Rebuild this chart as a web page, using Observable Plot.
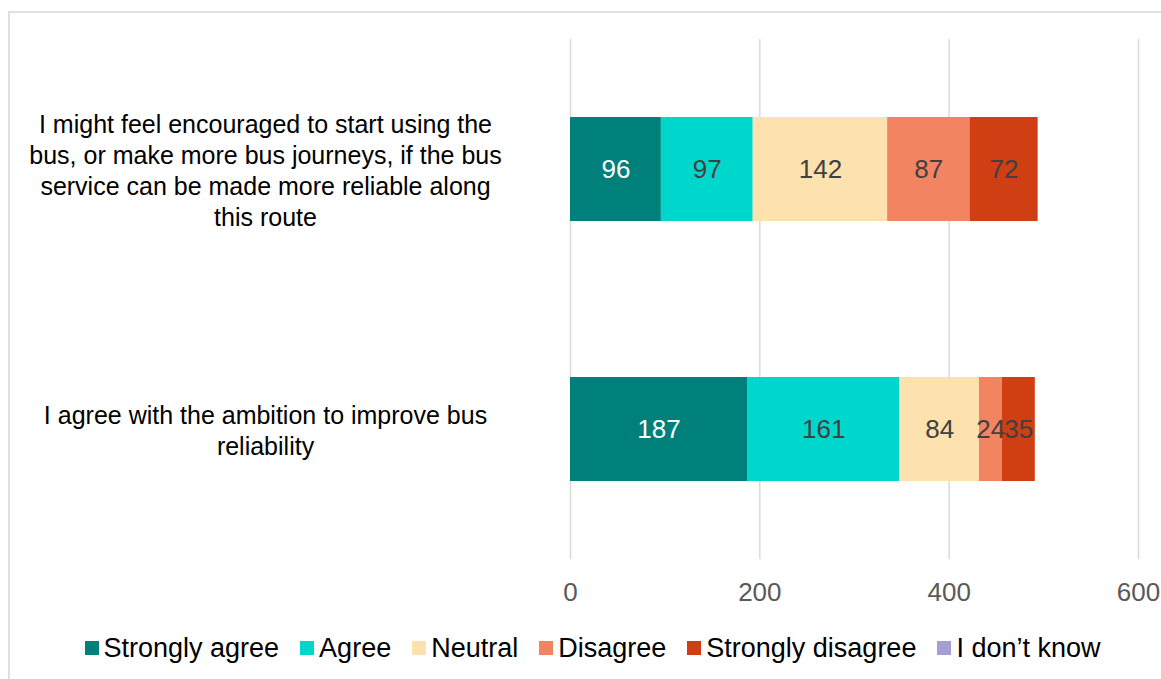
<!DOCTYPE html>
<html>
<head>
<meta charset="utf-8">
<script src="https://cdn.jsdelivr.net/npm/d3@7"></script>
<script src="https://cdn.jsdelivr.net/npm/@observablehq/plot@0.6"></script>
<style>
  html, body { margin: 0; padding: 0; background: #fff; width: 1161px; height: 679px; overflow: hidden; }
  #frame { position: absolute; left: 8px; top: 11px; width: 1300px; height: 800px;
           border-top: 2px solid #e0e0e0; border-left: 2px solid #e0e0e0; box-sizing: border-box; }
  #chart { position: absolute; left: 0; top: 0; }
  #legend { position: absolute; left: 0; top: 632px; width: 1185px; display: flex; justify-content: center;
            font-family: "Liberation Sans", Arial, sans-serif; font-size: 27px; color: #000; line-height: 32px; }
  .item { display: flex; align-items: center; margin: 0 10.5px; }
  .sw { width: 14px; height: 14px; margin-right: 5px; }
</style>
</head>
<body>
<div id="frame"></div>
<div id="chart"></div>
<div id="legend"></div>
<script>
const categories = [
  "I might feel encouraged to start using the bus, or make more bus journeys, if the bus service can be made more reliable along this route",
  "I agree with the ambition to improve bus reliability"
];
const categoryLabels = [
  "I might feel encouraged to start using the\nbus, or make more bus journeys, if the bus\nservice can be made more reliable along\nthis route",
  "I agree with the ambition to improve bus\nreliability"
];
const responses = ["Strongly agree", "Agree", "Neutral", "Disagree", "Strongly disagree", "I don\u2019t know"];
const colors = ["#00807a", "#00d7cc", "#fde1ae", "#f28462", "#d03f13", "#a59fd4"];
const stronglyAgree = [96, 187];
const agree = [97, 161];
const neutral = [142, 84];
const disagree = [87, 24];
const stronglyDisagree = [72, 35];
const dontKnow = [0, 0];
const xTicks = [0, 200, 400, 600];

const series = [stronglyAgree, agree, neutral, disagree, stronglyDisagree, dontKnow];
const data = [];
categories.forEach((c, i) => {
  responses.forEach((r, j) => data.push({cat: c, response: r, value: series[j][i]}));
});
const labelOf = Object.fromEntries(categories.map((c, i) => [c, categoryLabels[i]]));

const chart = Plot.plot({
  width: 1161,
  height: 620,
  marginLeft: 570,
  marginRight: 23,
  marginTop: 39,
  marginBottom: 61,
  style: {fontFamily: "'Liberation Sans', Arial, sans-serif", background: "transparent", overflow: "visible"},
  x: {domain: [0, 600], ticks: xTicks},
  y: {domain: categories, paddingInner: 0.6, paddingOuter: 0.3},
  color: {domain: responses, range: colors},
  marks: [
    Plot.gridX(xTicks, {stroke: "#d9d9d9", strokeOpacity: 1, strokeWidth: 1.5}),
    Plot.barX(data, {x: "value", y: "cat", fill: "response", order: responses}),
    Plot.text(data.filter(d => d.value > 0), Plot.stackX({
      x: "value", y: "cat", z: "response", order: responses, text: d => String(d.value),
      fill: d => d.response === "Strongly agree" ? "#ffffff" : "#404040",
      fontSize: 26
    })),
    Plot.axisX(xTicks, {tickSize: 0, tickPadding: 23, fontSize: 26, color: "#595959", label: null}),
    Plot.axisY({tickSize: 0, tickPadding: 305, textAnchor: "middle", fontSize: 25, lineHeight: 1.25,
      tickFormat: d => labelOf[d], color: "#000", label: null})
  ]
});
document.getElementById("chart").appendChild(chart);

const legend = document.getElementById("legend");
responses.forEach((r, i) => {
  const it = document.createElement("div");
  it.className = "item";
  const sw = document.createElement("div");
  sw.className = "sw";
  sw.style.background = colors[i];
  const t = document.createElement("span");
  t.textContent = r;
  it.appendChild(sw); it.appendChild(t);
  legend.appendChild(it);
});
</script>
</body>
</html>
